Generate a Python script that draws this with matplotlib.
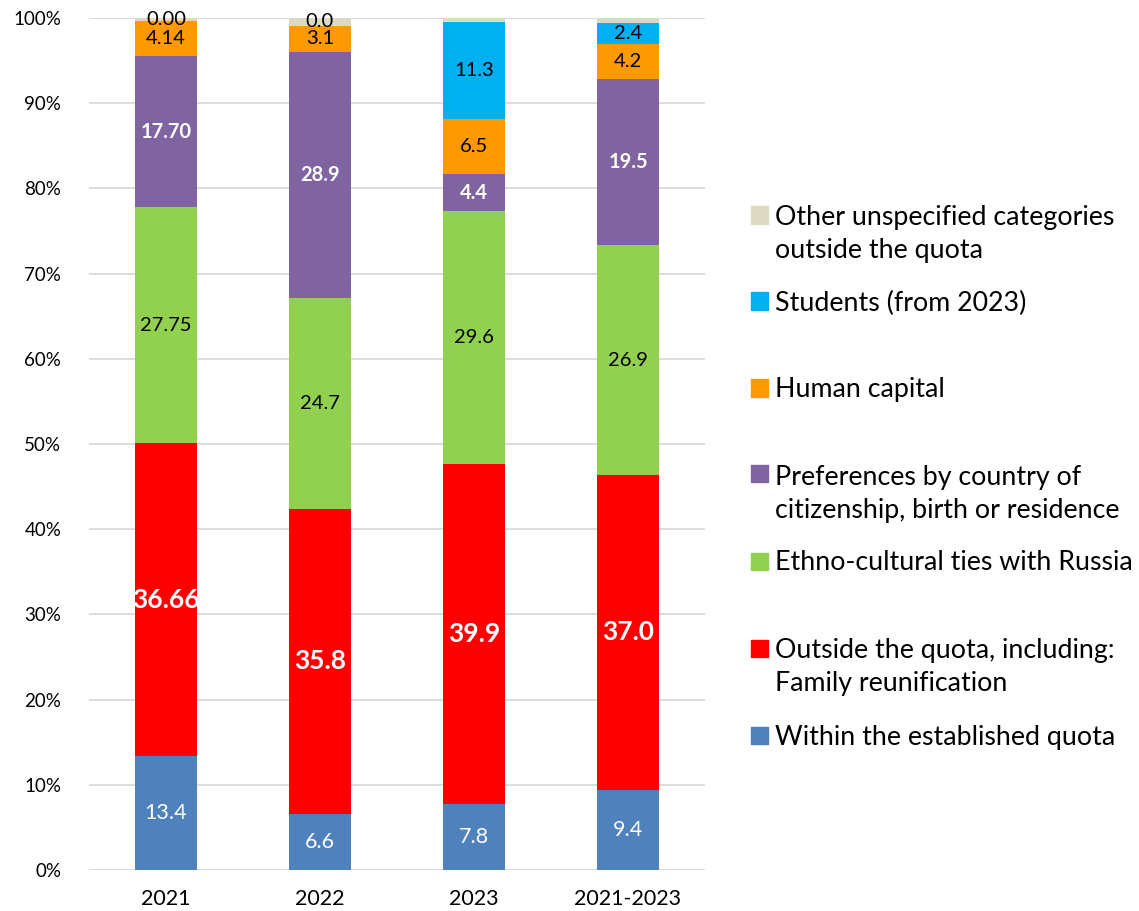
import matplotlib
matplotlib.use("Agg")
import matplotlib.pyplot as plt
from matplotlib.patches import Rectangle
import numpy as np

plt.rcParams['font.family'] = ['Lato', 'DejaVu Sans']

categories = ["2021", "2022", "2023", "2021-2023"]
within_quota = [13.4, 6.6, 7.8, 9.4]
family_reunif = [36.66, 35.8, 39.9, 37.0]
ethno = [27.75, 24.7, 29.6, 26.9]
preferences = [17.70, 28.9, 4.4, 19.5]
human_capital = [4.14, 3.1, 6.5, 4.2]
students = [0.0, 0.0, 11.3, 2.4]
other = [0.35, 0.9, 0.5, 0.6]

lab_within = ["13.4", "6.6", "7.8", "9.4"]
lab_family = ["36.66", "35.8", "39.9", "37.0"]
lab_ethno = ["27.75", "24.7", "29.6", "26.9"]
lab_pref = ["17.70", "28.9", "4.4", "19.5"]
lab_human = ["4.14", "3.1", "6.5", "4.2"]
lab_students = ["", "", "11.3", "2.4"]
lab_other = ["0.00", "0.0", "", ""]

series = [
    ("Within the established quota", within_quota, "#4F81BD", lab_within, "white", "normal", 15.5),
    ("Outside the quota, including:\nFamily reunification", family_reunif, "#FF0000", lab_family, "white", "bold", 19),
    ("Ethno-cultural ties with Russia", ethno, "#92D050", lab_ethno, "black", "normal", 14.5),
    ("Preferences by country of\ncitizenship, birth or residence", preferences, "#8064A2", lab_pref, "white", "bold", 14.5),
    ("Human capital", human_capital, "#FF9900", lab_human, "black", "normal", 14.5),
    ("Students (from 2023)", students, "#00B0F0", lab_students, "black", "normal", 14.5),
    ("Other unspecified categories\noutside the quota", other, "#DDD9C4", lab_other, "black", "normal", 14.5),
]

fig = plt.figure(figsize=(11.39, 9.11), dpi=100)
ax = fig.add_axes([89/1139, 1-870/911, (705-89)/1139, (870-18)/911])

x = np.arange(len(categories))
totals = np.sum([np.array(s[1]) for s in series], axis=0)
bottom = np.zeros(len(categories))
for name, vals, color, labs, tcol, tw, fs in series:
    v = np.array(vals) / totals * 100
    ax.bar(x, v, 0.40, bottom=bottom, color=color, zorder=3, linewidth=0)
    for i in range(len(categories)):
        if labs[i]:
            ax.text(x[i], bottom[i] + v[i] / 2, labs[i], ha='center', va='center',
                    color=tcol, fontweight=tw, fontsize=fs, zorder=4)
    bottom += v

ax.set_xlim(-0.5, 3.5)
ax.set_ylim(0, 100)
ax.set_yticks(np.arange(0, 101, 10))
ax.set_yticklabels([f"{t}%" for t in range(0, 101, 10)], fontsize=13.5)
ax.set_xticks(x)
ax.set_xticklabels(categories, fontsize=15.5)
ax.yaxis.grid(True, color="#D9D9D9", linewidth=1.3, zorder=0)
for s in ax.spines.values():
    s.set_visible(False)
ax.tick_params(axis='both', length=0)
ax.tick_params(axis='y', pad=20)
ax.tick_params(axis='x', pad=14)

# legend (manual placement): name, colour, square centre y, text centre y (pixels)
leg_items = [
    (series[6][0], series[6][2], 215, 234),
    (series[5][0], series[5][2], 301, 303),
    (series[4][0], series[4][2], 388, 390),
    (series[3][0], series[3][2], 474, 494),
    (series[2][0], series[2][2], 561, 563),
    (series[1][0], series[1][2], 648, 667),
    (series[0][0], series[0][2], 735, 737),
]
for name, color, ysq, ytxt in leg_items:
    fig.patches.append(Rectangle((751/1139, 1-(ysq+8.5)/911), 17/1139, 17/911,
                                 transform=fig.transFigure, color=color))
    fig.text(775/1139, 1-ytxt/911, name, ha='left', va='center', fontsize=19.3,
             linespacing=1.42)

fig.savefig("out.png", dpi=100)
